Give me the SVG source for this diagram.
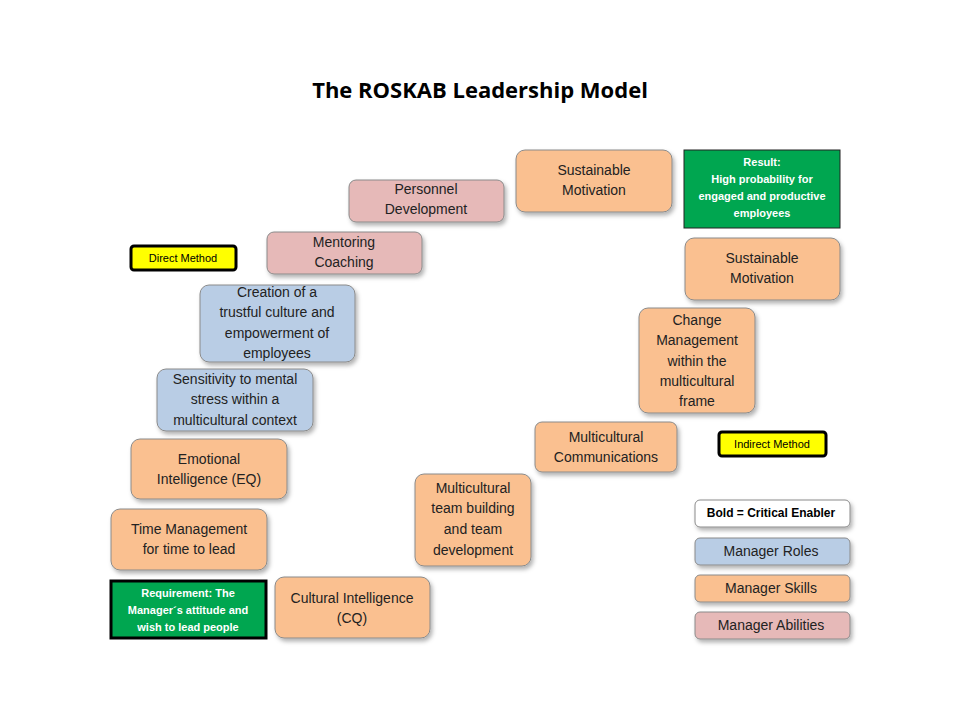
<svg xmlns="http://www.w3.org/2000/svg" width="960" height="720" viewBox="0 0 960 720">
<defs>
<filter id="sh" x="-10%" y="-10%" width="130%" height="140%"><feDropShadow dx="2" dy="3" stdDeviation="2" flood-color="#000" flood-opacity="0.3"/></filter>
</defs>
<style>
text{font-family:"Liberation Sans",Arial,sans-serif;font-size:14px;fill:#222;text-anchor:middle}
.b{stroke:#8a8a8a;stroke-width:1;filter:url(#sh)}
.o{fill:#fac090}.p{fill:#e6b9b8}.u{fill:#b9cde5}.w{fill:#fff}
.g{fill:#00a650;stroke:#222;stroke-width:1}
.gk{fill:#00a650;stroke:#000;stroke-width:3}
.y{fill:#ffff00;stroke:#000;stroke-width:3}
.sm{font-size:11px;font-weight:bold;fill:#fff}
.ys{font-size:11px;fill:#000}
</style>
<rect width="960" height="720" fill="#fff"/>
<text x="480" y="98" style="font-size:22px;font-weight:bold;fill:#000;font-family:'Open Sans','Liberation Sans',sans-serif">The ROSKAB Leadership Model</text>
<g id="connectors"></g>
<g id="personnel"><rect class="b p" x="349" y="180" width="155" height="42" rx="7"/><text x="426" y="194">Personnel</text><text x="426" y="214">Development</text></g>
<g id="sustain1"><rect class="b o" x="516" y="150" width="156" height="62" rx="9"/><text x="594" y="175">Sustainable</text><text x="594" y="195">Motivation</text></g>
<g id="result"><rect class="g" x="684" y="150" width="156" height="78"/><text class="sm" x="762" y="166">Result:</text><text class="sm" x="762" y="183">High probability  for</text><text class="sm" x="762" y="200">engaged and productive</text><text class="sm" x="762" y="217">employees</text></g>
<g id="mentoring"><rect class="b p" x="267" y="232" width="155" height="42" rx="7"/><text x="344" y="247">Mentoring</text><text x="344" y="267">Coaching</text></g>
<g id="direct"><rect class="y" x="131" y="246" width="105" height="24" rx="3"/><text class="ys" x="183" y="262">Direct Method</text></g>
<g id="sustain2"><rect class="b o" x="685" y="238" width="155" height="62" rx="9"/><text x="762" y="263">Sustainable</text><text x="762" y="283">Motivation</text></g>
<g id="trust"><rect class="b u" x="200" y="285" width="155" height="77" rx="9"/><text x="277" y="297">Creation of a</text><text x="277" y="317">trustful culture and</text><text x="277" y="338">empowerment of</text><text x="277" y="358">employees</text></g>
<g id="change"><rect class="b o" x="639" y="308" width="116" height="105" rx="9"/><text x="697" y="325">Change</text><text x="697" y="345">Management</text><text x="697" y="366">within the</text><text x="697" y="386">multicultural</text><text x="697" y="406">frame</text></g>
<g id="sensitivity"><rect class="b u" x="157" y="369" width="156" height="62" rx="9"/><text x="235" y="384">Sensitivity to mental</text><text x="235" y="404">stress within a</text><text x="235" y="425">multicultural context</text></g>
<g id="mcomm"><rect class="b o" x="535" y="422" width="142" height="50" rx="7"/><text x="606" y="442">Multicultural</text><text x="606" y="462">Communications</text></g>
<g id="indirect"><rect class="y" x="719" y="432" width="107" height="24" rx="3"/><text class="ys" x="772" y="448">Indirect Method</text></g>
<g id="eq"><rect class="b o" x="131" y="439" width="156" height="60" rx="9"/><text x="209" y="464">Emotional</text><text x="209" y="484">Intelligence  (EQ)</text></g>
<g id="team"><rect class="b o" x="415" y="474" width="116" height="92" rx="9"/><text x="473" y="493">Multicultural</text><text x="473" y="513">team building</text><text x="473" y="534">and team</text><text x="473" y="555">development</text></g>
<g id="time"><rect class="b o" x="111" y="509" width="156" height="61" rx="9"/><text x="189" y="534">Time Management</text><text x="189" y="554">for time to lead</text></g>
<g id="requirement"><rect class="gk" x="111" y="581" width="155" height="57"/><text class="sm" x="188" y="597">Requirement: The</text><text class="sm" x="188" y="614">Manager´s attitude and</text><text class="sm" x="188" y="631">wish to lead people</text></g>
<g id="cq"><rect class="b o" x="275" y="577" width="155" height="61" rx="9"/><text x="352" y="603">Cultural Intelligence</text><text x="352" y="623">(CQ)</text></g>
<g id="legend-bold"><rect class="b w" x="695" y="500" width="155" height="27" rx="5"/><text x="771" y="517" style="font-size:12px;font-weight:bold;fill:#000">Bold = Critical Enabler</text></g>
<g id="legend-roles"><rect class="b u" x="695" y="538" width="155" height="27" rx="5"/><text x="771" y="556">Manager Roles</text></g>
<g id="legend-skills"><rect class="b o" x="695" y="575" width="155" height="27" rx="5"/><text x="771" y="593">Manager Skills</text></g>
<g id="legend-abilities"><rect class="b p" x="695" y="612" width="155" height="27" rx="5"/><text x="771" y="630">Manager Abilities</text></g>
</svg>
